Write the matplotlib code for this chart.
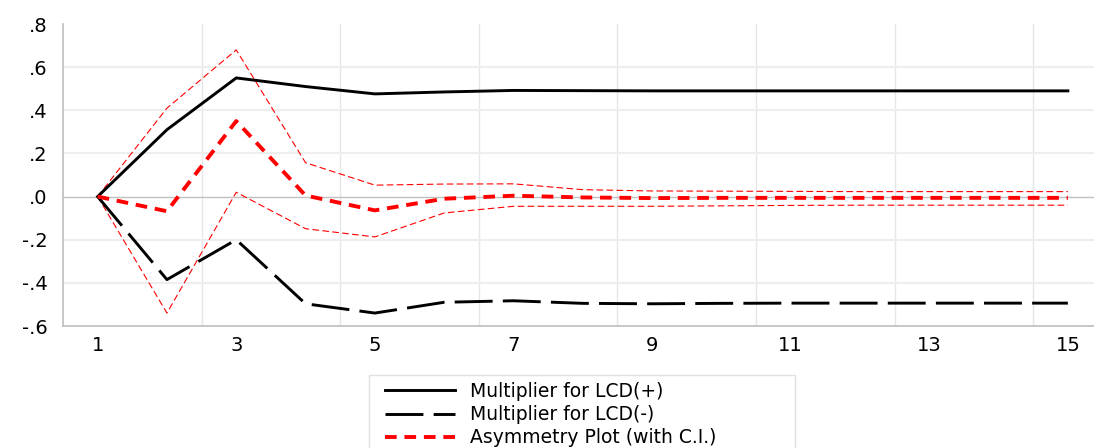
import matplotlib
matplotlib.use("Agg")
import matplotlib.pyplot as plt
from matplotlib.patches import Rectangle
from matplotlib.ticker import FixedLocator, FuncFormatter

periods = list(range(1, 16))
mult_pos = [0.0, 0.31, 0.55, 0.51, 0.476, 0.485, 0.492, 0.491, 0.490, 0.490, 0.490, 0.490, 0.490, 0.490, 0.490]
mult_neg = [0.0, -0.385, -0.20, -0.497, -0.54, -0.49, -0.483, -0.495, -0.497, -0.495, -0.494, -0.494, -0.494, -0.494, -0.494]
asym = [0.0, -0.068, 0.35, 0.005, -0.064, -0.01, 0.004, -0.004, -0.007, -0.006, -0.006, -0.006, -0.006, -0.006, -0.006]
ci_upper = [0.0, 0.41, 0.68, 0.157, 0.053, 0.058, 0.059, 0.032, 0.026, 0.025, 0.024, 0.023, 0.023, 0.023, 0.023]
ci_lower = [0.0, -0.54, 0.02, -0.149, -0.187, -0.076, -0.045, -0.045, -0.045, -0.043, -0.041, -0.040, -0.040, -0.040, -0.040]
xtick_vals = [1, 3, 5, 7, 9, 11, 13, 15]
ytick_vals = [-0.6, -0.4, -0.2, 0.0, 0.2, 0.4, 0.6, 0.8]
legend_labels = ["Multiplier for LCD(+)", "Multiplier for LCD(-)", "Asymmetry Plot (with C.I.)"]

W, H = 1094, 448
fig = plt.figure(figsize=(W / 100, H / 100), dpi=100)
left = 63 / W
bottom = 1 - 326 / H
top = 1 - 24 / H
ax = fig.add_axes([left, bottom, 1 - left, top - bottom])

unit = 69.3
ax.set_xlim(0.5, 0.5 + (W - 63) / unit)
ax.set_ylim(-0.6, 0.8)

# grid
for gx in [2.5, 4.5, 6.5, 8.5, 10.5, 12.5, 14.5]:
    ax.axvline(gx, color="#e6e6e6", lw=1.0, zorder=0)
for gy in ytick_vals:
    if gy == 0.0:
        ax.axhline(gy, color="#c0c0c0", lw=1.0, zorder=0)
    elif gy not in (-0.6, 0.8):
        ax.axhline(gy, color="#eeeeee", lw=1.5, zorder=0)

ax.plot(periods, ci_upper, color="red", lw=0.8, dashes=(6, 3), zorder=2)
ax.plot(periods, ci_lower, color="red", lw=0.8, dashes=(6, 3), zorder=2)
l1, = ax.plot(periods, mult_pos, color="black", lw=2.1, solid_joinstyle="miter", zorder=3)
l2, = ax.plot(periods, mult_neg, color="black", lw=2.1, dashes=(13, 3.5), zorder=3)
l3, = ax.plot(periods, asym, color="red", lw=2.8, dashes=(3.0, 2.0), zorder=4)

ax.xaxis.set_major_locator(FixedLocator(xtick_vals))
ax.yaxis.set_major_locator(FixedLocator(ytick_vals))

def yfmt(v, pos):
    s = "%.1f" % v
    s = s.replace("0.", ".")
    if s == "-.0":
        s = ".0"
    return s

ax.yaxis.set_major_formatter(FuncFormatter(yfmt))
ax.tick_params(axis="both", length=0, labelsize=14, colors="black")
ax.tick_params(axis="y", pad=11)
ax.tick_params(axis="x", pad=7)
for lab in ax.get_yticklabels():
    lab.set_horizontalalignment("right")

for s in ["top", "right"]:
    ax.spines[s].set_visible(False)
for s in ["left", "bottom"]:
    ax.spines[s].set_color("#bdbdbd")
    ax.spines[s].set_linewidth(1.2)

# legend frame (extends past the bottom edge, as in the reference)
frame = Rectangle((369 / W, -0.05), 426 / W, (1 - 375 / H) + 0.05,
                  transform=fig.transFigure, facecolor="white",
                  edgecolor="#e0e0e0", lw=1.0, zorder=1)
fig.patches.append(frame)

leg = fig.legend([l1, l2, l3], legend_labels, loc="upper left",
                 bbox_to_anchor=(385 / W, 1 - 382 / H), fontsize=13.5,
                 handlelength=3.75, handletextpad=0.8, labelspacing=0.22,
                 borderpad=0.0, borderaxespad=0.0, frameon=False)
leg.set_zorder(2)

fig.savefig("out.png", dpi=100)
